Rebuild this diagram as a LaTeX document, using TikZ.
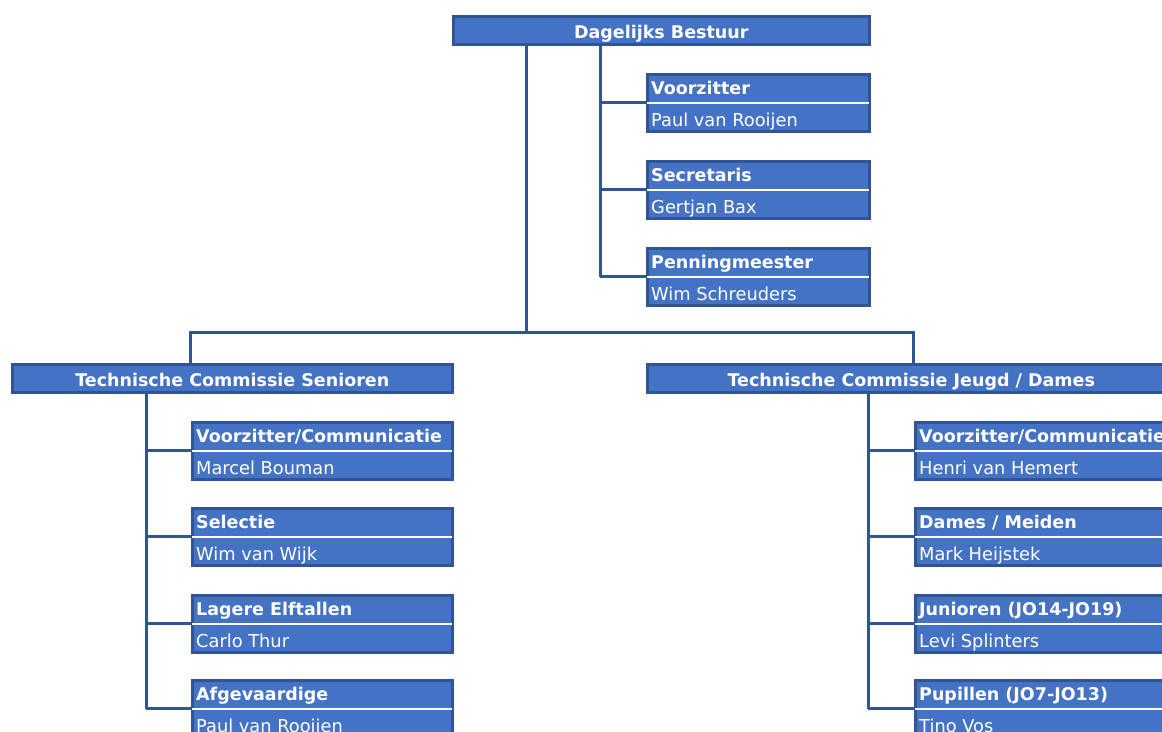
\documentclass[tikz,border=0pt]{standalone}
\usepackage{fontspec}
\setmainfont{DejaVu Sans}
\definecolor{boxfill}{HTML}{4472C4}
\definecolor{boxline}{HTML}{2F5597}
\tikzset{
  orgbox/.style={draw=boxline, fill=boxfill, line width=2.6pt, rectangle, inner sep=0pt, anchor=north west},
  txt/.style={text=white, inner sep=0pt, font=\fontsize{17.8}{20}\selectfont},
  btxt/.style={text=white, inner sep=0pt, font=\fontsize{17.5}{20}\selectfont\bfseries},
  conn/.style={draw=boxline, line width=3pt},
  divider/.style={draw=white, line width=1.8pt},
}
% name, left, top, path width, title, person
\newcommand{\pbox}[6]{%
  \node[orgbox, minimum width=#4pt, minimum height=57pt] (#1) at (#2+1,#3+1) {};
  \draw[divider] ([xshift=1.3pt]#1.west) -- ([xshift=-1.3pt]#1.east);
  \node[btxt, anchor=base west] (#1t) at ([xshift=5pt,yshift=-21pt]#1.north west) {#5};
  \node[txt, anchor=base west] (#1n) at ([xshift=5pt,yshift=6pt]#1.south west) {#6};
}
\begin{document}
\begin{tikzpicture}[x=1pt,y=-1pt]
\useasboundingbox (0,0) rectangle (1162,731);
\clip (0,0) rectangle (1162,731);
\fill[white] (0,0) rectangle (1162,731);

% junction coordinates
\coordinate (j1) at (526,332);
\coordinate (hL) at (190,332);
\coordinate (hR) at (913,332);
\coordinate (b1) at (600,100);
\coordinate (bL) at (146,400);
\coordinate (bR) at (868,400);

% header boxes
\node[orgbox, minimum width=416pt, minimum height=28pt] (db) at (452,15) {};
\node[btxt, anchor=base] (dbt) at ([yshift=7.5pt]db.south) {Dagelijks Bestuur};
\node[orgbox, minimum width=440pt, minimum height=28pt] (tcs) at (11,363) {};
\node[btxt, anchor=base] (tcst) at ([yshift=7.5pt]tcs.south) {Technische Commissie Senioren};
\node[orgbox, minimum width=528pt, minimum height=28pt] (tcj) at (646,363) {};
\node[btxt, anchor=base] (tcjt) at ([yshift=7.5pt]tcj.south) {Technische Commissie Jeugd / Dames};

% Dagelijks Bestuur members
\pbox{vz}{645}{72}{222}{Voorzitter}{Paul van Rooijen}
\pbox{se}{645}{159}{222}{Secretaris}{Gertjan Bax}
\pbox{pm}{645}{246}{222}{Penningmeester}{Wim Schreuders}

% Senioren
\pbox{l1}{190}{420}{260}{Voorzitter/Communicatie}{Marcel Bouman}
\pbox{l2}{190}{506}{260}{Selectie}{Wim van Wijk}
\pbox{l3}{190}{593}{260}{Lagere Elftallen}{Carlo Thur}
\pbox{l4}{190}{678}{260}{Afgevaardige}{Paul van Rooijen}

% Jeugd / Dames
\pbox{r1}{913}{420}{260}{Voorzitter/Communicatie}{Henri van Hemert}
\pbox{r2}{913}{506}{260}{Dames / Meiden}{Mark Heijstek}
\pbox{r3}{913}{593}{260}{Junioren (JO14-JO19)}{Levi Splinters}
\pbox{r4}{913}{678}{260}{Pupillen (JO7-JO13)}{Tino Vos}

% top-level connectors
\draw[conn] (db.south -| j1) -- (j1);
\draw[conn] (tcs.north -| hL) -- (hL) -- (hR) -- (tcj.north -| hR);

% Dagelijks Bestuur branches
\draw[conn] (db.south -| b1) -- (b1 |- pm.west);
\draw[conn] (b1 |- vz.west) -- (vz.west);
\draw[conn] (b1 |- se.west) -- (se.west);
\draw[conn] (b1 |- pm.west) -- (pm.west);

% Senioren branches
\draw[conn] (tcs.south -| bL) -- (bL |- l4.west);
\foreach \n in {l1,l2,l3,l4} \draw[conn] (bL |- \n.west) -- (\n.west);

% Jeugd branches
\draw[conn] (tcj.south -| bR) -- (bR |- r4.west);
\foreach \n in {r1,r2,r3,r4} \draw[conn] (bR |- \n.west) -- (\n.west);
\end{tikzpicture}
\end{document}
